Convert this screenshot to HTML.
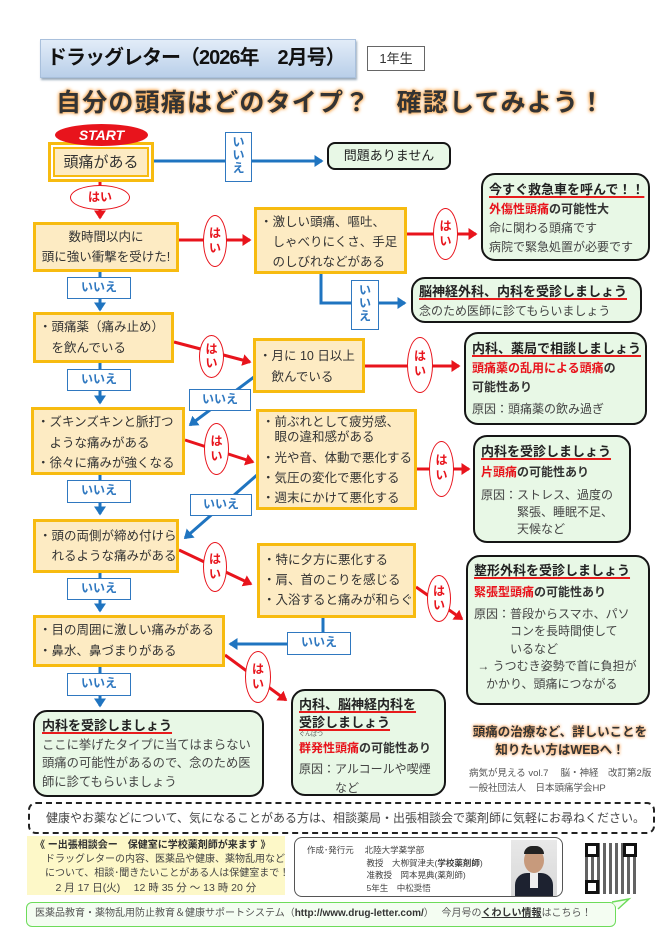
<!DOCTYPE html>
<html><head><meta charset="utf-8">
<style>
*{margin:0;padding:0;box-sizing:border-box}
body{width:670px;height:947px;background:#fff;position:relative;overflow:hidden;font-family:"Liberation Sans","Noto Sans CJK JP",sans-serif;color:#333}
.a{position:absolute}
.ob{position:absolute;background:#fdebc3;border:3px solid #f7bb10;font-size:12.5px;line-height:20px;color:#333;white-space:nowrap}
.gb{position:absolute;background:#e8f8e6;border:2.5px solid #151515;border-radius:14px;font-size:12px;line-height:18px;color:#444;white-space:nowrap;padding:6px 8px}
.gb .t{font-weight:bold;font-size:13px;color:#222;text-decoration:underline;text-decoration-color:#e81c1c;text-decoration-thickness:2px;text-underline-offset:2px}
.r{color:#e8141c;font-weight:bold}
.b{font-weight:bold;color:#333}
.no{position:absolute;background:#fff;border:1.5px solid #2f78c0;color:#2f78c0;font-weight:bold;font-size:12px;text-align:center;line-height:19px}
.nov{position:absolute;background:#fff;border:1.5px solid #2f78c0;color:#2f78c0;font-weight:bold;font-size:12px;text-align:center;line-height:13px;padding-top:3px}
.yes{position:absolute;background:#fff;border:1.5px solid #e8141c;border-radius:50%;color:#e8141c;font-weight:bold;font-size:12px;text-align:center}
</style></head><body>

<svg class="a" style="left:0;top:0" width="670" height="947">
<defs>
<marker id="ab" markerWidth="4" markerHeight="4" refX="2.5" refY="2" orient="auto" markerUnits="strokeWidth"><path d="M0,0 L3,2 L0,4z" fill="#1f74c0"/></marker>
<marker id="ar" markerWidth="4" markerHeight="4" refX="2.5" refY="2" orient="auto" markerUnits="strokeWidth"><path d="M0,0 L3,2 L0,4z" fill="#e8141c"/></marker>
</defs>
<g stroke="#1f74c0" stroke-width="3" fill="none">
<line x1="154" y1="161" x2="322" y2="161" marker-end="url(#ab)"/>
<line x1="100" y1="272" x2="100" y2="310" marker-end="url(#ab)"/>
<polyline points="321,274 321,303 405,303" marker-end="url(#ab)"/>
<line x1="100" y1="363" x2="100" y2="403" marker-end="url(#ab)"/>
<line x1="254" y1="377" x2="190" y2="425" marker-end="url(#ab)"/>
<line x1="100" y1="475" x2="100" y2="514" marker-end="url(#ab)"/>
<line x1="257" y1="475" x2="185" y2="538" marker-end="url(#ab)"/>
<line x1="100" y1="573" x2="100" y2="611" marker-end="url(#ab)"/>
<polyline points="323,618 323,644 230,644" marker-end="url(#ab)"/>
<line x1="100" y1="667" x2="100" y2="706" marker-end="url(#ab)"/>
</g>
<g stroke="#e8141c" stroke-width="3" fill="none">
<line x1="100" y1="181" x2="100" y2="218" marker-end="url(#ar)"/>
<line x1="179" y1="240" x2="250" y2="240" marker-end="url(#ar)"/>
<line x1="407" y1="234" x2="476" y2="234" marker-end="url(#ar)"/>
<line x1="174" y1="342" x2="250" y2="362" marker-end="url(#ar)"/>
<line x1="365" y1="366" x2="459" y2="366" marker-end="url(#ar)"/>
<line x1="185" y1="440" x2="253" y2="462" marker-end="url(#ar)"/>
<line x1="417" y1="469" x2="469" y2="469" marker-end="url(#ar)"/>
<line x1="179" y1="550" x2="251" y2="584" marker-end="url(#ar)"/>
<line x1="416" y1="587" x2="462" y2="619" marker-end="url(#ar)"/>
<line x1="225" y1="655" x2="286" y2="700" marker-end="url(#ar)"/>
</g>
</svg>

<!-- header -->
<div class="a" style="left:40px;top:39px;width:316px;height:39px;background:linear-gradient(#e2ecf8,#b9cfe9);border:1px solid #a9c0dc;box-shadow:1px 2px 2px #9ab;font-weight:bold;font-size:20px;line-height:37px;padding-left:6px;color:#111;letter-spacing:-1px">ドラッグレター（2026年　2月号）</div>
<div class="a" style="left:367px;top:46px;width:58px;height:25px;border:1px solid #666;font-size:13px;line-height:23px;text-align:center;color:#333">1年生</div>
<div class="a" style="left:56px;top:88px;width:580px;font-weight:bold;font-size:25px;line-height:30px;color:#333;letter-spacing:1.2px;text-shadow:0 0 4px #f7a040,0 0 3px #f7a040;white-space:nowrap">自分の頭痛はどのタイプ？　確認してみよう！</div>

<!-- start -->
<div class="a" style="left:48px;top:142px;width:106px;height:40px;border:3px solid #f7bb10;background:#fff;padding:2px"><div style="width:100%;height:100%;border:2px solid #f7bb10;background:#fdebc3;font-size:15px;line-height:28px;text-align:center;color:#333">頭痛がある</div></div>
<div class="a" style="left:55px;top:124px;width:93px;height:22px;border-radius:50%;background:#e8141c;color:#fff;font-weight:bold;font-style:italic;font-size:14px;line-height:22px;text-align:center">START</div>

<div class="nov" style="left:225px;top:132px;width:27px;height:50px">い<br>い<br>え</div>
<div class="gb" style="left:327px;top:142px;width:124px;height:28px;padding:0;text-align:center;line-height:24px;font-size:13px;color:#222;border-radius:8px">問題ありません</div>

<div class="yes" style="left:70px;top:185px;width:60px;height:25px;line-height:22px">はい</div>

<div class="ob" style="left:33px;top:222px;width:146px;height:50px;text-align:center;padding-top:2px;line-height:20px">数時間以内に<br>頭に強い衝撃を受けた!</div>
<div class="yes" style="left:203px;top:215px;width:24px;height:52px;line-height:15px;padding-top:10px">は<br>い</div>
<div class="ob" style="left:254px;top:207px;width:153px;height:67px;padding:2px 0 0 3px">・激しい頭痛、嘔吐、<br>　しゃべりにくさ、手足<br>　のしびれなどがある</div>
<div class="yes" style="left:433px;top:208px;width:25px;height:52px;line-height:15px;padding-top:10px">は<br>い</div>
<div class="gb" style="left:481px;top:173px;width:169px;height:88px;padding:5px 6px;line-height:19px"><span class="t">今すぐ救急車を呼んで！！</span><br><span class="r">外傷性頭痛</span><span class="b">の可能性大</span><br>命に関わる頭痛です<br>病院で緊急処置が必要です</div>

<div class="no" style="left:67px;top:277px;width:64px;height:22px">いいえ</div>
<div class="nov" style="left:351px;top:280px;width:28px;height:50px">い<br>い<br>え</div>
<div class="gb" style="left:411px;top:277px;width:231px;height:46px;padding:3px 6px;line-height:19px"><span class="t">脳神経外科、内科を受診しましょう</span><br>念のため医師に診てもらいましょう</div>

<div class="ob" style="left:33px;top:312px;width:141px;height:51px;padding:2px 0 0 3px;line-height:21px">・頭痛薬（痛み止め）<br>　を飲んでいる</div>
<div class="no" style="left:67px;top:369px;width:64px;height:22px">いいえ</div>
<div class="yes" style="left:199px;top:335px;width:25px;height:43px;line-height:14px;padding-top:6px">は<br>い</div>
<div class="ob" style="left:253px;top:338px;width:112px;height:55px;padding:5px 0 0 3px;line-height:21px">・月に 10 日以上<br>　飲んでいる</div>
<div class="yes" style="left:407px;top:337px;width:26px;height:56px;line-height:15px;padding-top:11px">は<br>い</div>
<div class="gb" style="left:464px;top:332px;width:183px;height:93px;padding:5px 6px;line-height:19px"><span class="t">内科、薬局で相談しましょう</span><br><span class="r">頭痛薬の乱用による頭痛</span><span class="b">の</span><br><span class="b">可能性あり</span><br><span style="line-height:24px">原因：頭痛薬の飲み過ぎ</span></div>
<div class="no" style="left:189px;top:389px;width:62px;height:22px">いいえ</div>

<div class="ob" style="left:31px;top:407px;width:154px;height:68px;padding:2px 0 0 3px;line-height:20.5px">・ズキンズキンと脈打つ<br>　ような痛みがある<br>・徐々に痛みが強くなる</div>
<div class="no" style="left:67px;top:480px;width:64px;height:23px">いいえ</div>
<div class="yes" style="left:204px;top:423px;width:25px;height:52px;line-height:15px;padding-top:10px">は<br>い</div>
<div class="ob" style="left:256px;top:409px;width:161px;height:101px;padding:3px 0 0 3px;line-height:15px">・前ぶれとして疲労感、<br>　眼の違和感がある<br><span style="display:block;line-height:20px;margin-top:3px">・光や音、体動で悪化する<br>・気圧の変化で悪化する<br>・週末にかけて悪化する</span></div>
<div class="yes" style="left:429px;top:441px;width:25px;height:56px;line-height:15px;padding-top:11px">は<br>い</div>
<div class="gb" style="left:473px;top:435px;width:158px;height:108px;padding:6px 6px;line-height:17px"><span class="t">内科を受診しましょう</span><br><span class="r" style="line-height:22px">片頭痛</span><span class="b">の可能性あり</span><br><span style="display:block;margin-top:4px">原因：ストレス、過度の<br>　　　緊張、睡眠不足、<br>　　　天候など</span></div>
<div class="no" style="left:190px;top:494px;width:62px;height:22px">いいえ</div>

<div class="ob" style="left:33px;top:519px;width:146px;height:54px;padding:4px 0 0 3px;line-height:20px">・頭の両側が締め付けら<br>　れるような痛みがある</div>
<div class="no" style="left:67px;top:578px;width:64px;height:22px">いいえ</div>
<div class="yes" style="left:203px;top:542px;width:24px;height:50px;line-height:15px;padding-top:9px">は<br>い</div>
<div class="ob" style="left:257px;top:543px;width:159px;height:75px;padding:4px 0 0 3px;line-height:20px">・特に夕方に悪化する<br>・肩、首のこりを感じる<br>・入浴すると痛みが和らぐ</div>
<div class="yes" style="left:427px;top:575px;width:24px;height:47px;line-height:14px;padding-top:8px">は<br>い</div>
<div class="gb" style="left:466px;top:555px;width:184px;height:150px;padding:5px 6px;line-height:17.5px"><span class="t">整形外科を受診しましょう</span><br><span class="r" style="line-height:22px">緊張型頭痛</span><span class="b">の可能性あり</span><br><span style="display:block;margin-top:3px">原因：普段からスマホ、パソ<br>　　　コンを長時間使して<br>　　　いるなど<br>&nbsp;→ うつむき姿勢で首に負担が<br>　かかり、頭痛につながる</span></div>

<div class="ob" style="left:33px;top:615px;width:192px;height:52px;padding:2px 0 0 3px;line-height:21px">・目の周囲に激しい痛みがある<br>・鼻水、鼻づまりがある</div>
<div class="no" style="left:287px;top:632px;width:64px;height:23px">いいえ</div>
<div class="no" style="left:67px;top:673px;width:64px;height:23px">いいえ</div>
<div class="yes" style="left:245px;top:651px;width:26px;height:52px;line-height:15px;padding-top:10px">は<br>い</div>

<div class="gb" style="left:33px;top:710px;width:231px;height:87px;padding:5px 7px;line-height:18.5px;font-size:12.3px"><span class="t">内科を受診しましょう</span><br>ここに挙げたタイプに当てはまらない<br>頭痛の可能性があるので、念のため医<br>師に診てもらいましょう</div>
<div class="gb" style="left:291px;top:689px;width:155px;height:107px;padding:5px 6px;line-height:18px"><span class="t">内科、脳神経内科を</span><br><span class="t">受診しましょう</span><br><span style="font-size:6px;line-height:7px;display:block;color:#555">ぐんぱつ</span><span class="r">群発性頭痛</span><span class="b">の可能性あり</span><br><span style="display:block;margin-top:3px;line-height:19px">原因：アルコールや喫煙<br>　　　など</span></div>

<div class="a" style="left:470px;top:723px;width:180px;text-align:center;font-weight:bold;font-size:12.5px;line-height:18px;color:#333;text-shadow:0 0 3px #f9a860,0 0 3px #f9a860">頭痛の治療など、詳しいことを<br>知りたい方はWEBへ！</div>
<div class="a" style="left:469px;top:766px;font-size:9.5px;line-height:15px;color:#555;white-space:nowrap">病気が見える vol.7　 脳・神経　改訂第2版<br>一般社団法人　日本頭痛学会HP</div>

<div class="a" style="left:28px;top:802px;width:627px;height:32px;border:2px dashed #222;border-radius:8px;font-size:12px;line-height:28px;padding-left:16px;color:#444;white-space:nowrap">健康やお薬などについて、気になることがある方は、相談薬局・出張相談会で薬剤師に気軽にお尋ねください。</div>

<div class="a" style="left:27px;top:836px;width:258px;height:59px;background:#fdf8c8;font-size:10px;line-height:14px;color:#444;white-space:nowrap;padding:3px 0 0 8px"><b style="color:#333">《 ー出張相談会ー　保健室に学校薬剤師が来ます 》</b><br>　ドラッグレターの内容、医薬品や健康、薬物乱用など<br>　について、相談･聞きたいことがある人は保健室まで！<br>　<span style="font-size:10.5px">　2 月 17 日(火)　 12 時 35 分 ～ 13 時 20 分</span></div>

<div class="a" style="left:294px;top:837px;width:269px;height:60px;border:1.5px solid #555;border-radius:8px;font-size:8.5px;line-height:12.5px;color:#444;white-space:nowrap;padding:6px 0 0 12px;overflow:hidden">作成･発行元　 北陸大学薬学部<br>　　　　　　　教授　大栁賀津夫(<b>学校薬剤師</b>)<br>　　　　　　　准教授　岡本晃典(薬剤師)<br>　　　　　　　5年生　中松奨悟
<div class="a" style="left:216px;top:2px;width:46px;height:56px;background:linear-gradient(#e8e8e8,#d8d8d8)"><div class="a" style="left:13px;top:8px;width:20px;height:25px;border-radius:50%;background:#c79a7c"></div><div class="a" style="left:13px;top:6px;width:20px;height:8px;border-radius:10px 10px 0 0;background:#222"></div><div class="a" style="left:4px;top:33px;width:38px;height:23px;border-radius:12px 12px 0 0;background:#1d2230"></div><div class="a" style="left:19px;top:33px;width:8px;height:15px;background:#eee"></div></div></div>

<div class="a" style="left:585px;top:843px;width:52px;height:51px;background:#fff">
<div class="a" style="left:0;top:0;width:52px;height:51px;background:repeating-linear-gradient(90deg,#222 0 3px,transparent 3px 6px),repeating-linear-gradient(0deg,#fff 0 2px,transparent 2px 5px);opacity:.7"></div>
<div class="a" style="left:0;top:0;width:14px;height:14px;border:3px solid #111;background:#fff"></div>
<div class="a" style="right:0;top:0;width:14px;height:14px;border:3px solid #111;background:#fff"></div>
<div class="a" style="left:0;bottom:0;width:14px;height:14px;border:3px solid #111;background:#fff"></div>
</div>

<div class="a" style="left:26px;top:902px;width:590px;height:25px;border:1.5px solid #6ddc5a;border-radius:6px;background:#f4fdf2;font-size:10px;line-height:22px;color:#555;white-space:nowrap;padding-left:8px">医薬品教育・薬物乱用防止教育＆健康サポートシステム（<b style="color:#333">http://www.drug-letter.com/</b>）　 今月号の<b style="color:#333;text-decoration:underline">くわしい情報</b>はこちら！</div>
<svg class="a" style="left:612px;top:896px" width="22" height="14"><path d="M0,6 L17,3 L6,13" fill="#f4fdf2" stroke="#6ddc5a" stroke-width="1.5"/></svg>

</body></html>
